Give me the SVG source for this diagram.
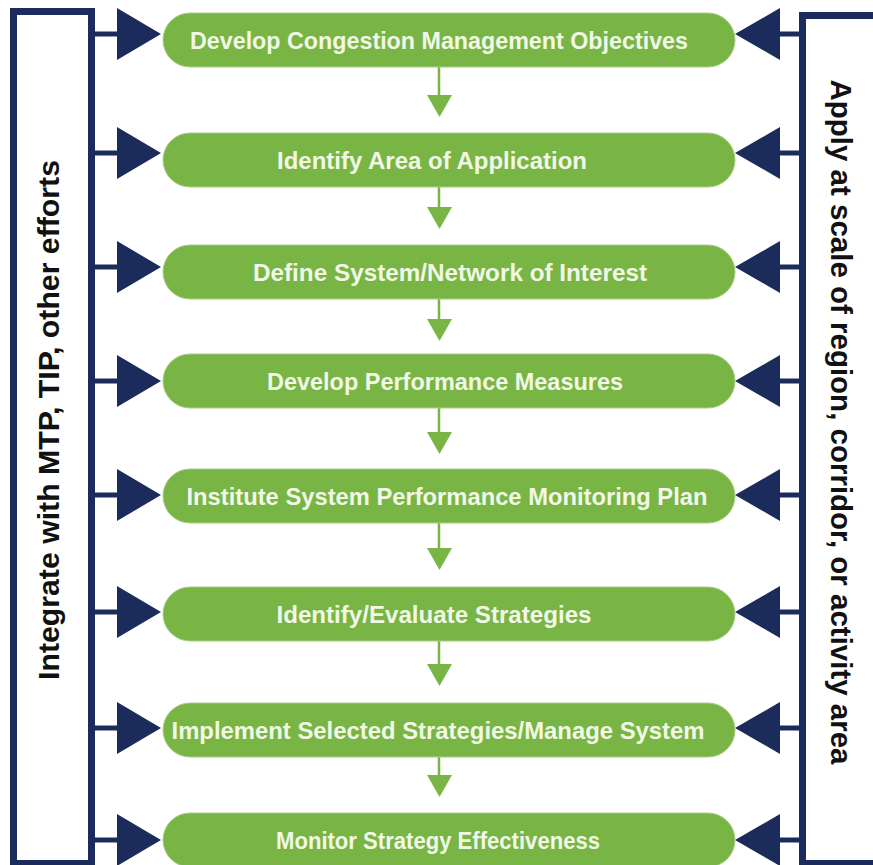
<svg xmlns="http://www.w3.org/2000/svg" width="873" height="865" viewBox="0 0 873 865">
<style>
.frame{fill:#ffffff;stroke:#1b2c5c;stroke-width:7}
.side{font-family:"Liberation Sans",Arial,sans-serif;font-weight:bold;font-size:29px;fill:#111111}
.pill{fill:#79b545;stroke:#a8cc86;stroke-width:1}
.lbl{font-family:"Liberation Sans",Arial,sans-serif;font-weight:bold;font-size:24px;fill:#f1f8e6;text-anchor:middle}
.nav{stroke:#1b2c5c;stroke-width:5;fill:none}
.navh{fill:#1b2c5c}
.gl{stroke:#79b545;stroke-width:2.5;fill:none}
.gh{fill:#79b545}
</style>
<rect width="873" height="865" fill="#ffffff"/>
<g id="integrate-frame">
<rect class="frame" x="13.5" y="11.5" width="78" height="852"/>
<text class="side" transform="translate(59,420) rotate(-90)" text-anchor="middle" textLength="520" lengthAdjust="spacingAndGlyphs">Integrate with MTP, TIP, other efforts</text>
</g>
<g id="apply-frame">
<rect class="frame" x="802.5" y="15.5" width="100" height="848"/>
<text class="side" transform="translate(831,422) rotate(90)" text-anchor="middle" textLength="685" lengthAdjust="spacingAndGlyphs">Apply at scale of region, corridor, or activity area</text>
</g>
<g id="connectors">
<g id="left-arrows">
<path class="nav" d="M95 34H120M95 153H120M95 267H120M95 381H120M95 495H120M95 612H120M95 728H120M95 840H120"/>
<polygon class="navh" points="117,8 117,60 161,34"/>
<polygon class="navh" points="117,127 117,179 161,153"/>
<polygon class="navh" points="117,241 117,293 161,267"/>
<polygon class="navh" points="117,355 117,407 161,381"/>
<polygon class="navh" points="117,469 117,521 161,495"/>
<polygon class="navh" points="117,586 117,638 161,612"/>
<polygon class="navh" points="117,702 117,754 161,728"/>
<polygon class="navh" points="117,814 117,866 161,840"/>
</g>
<g id="right-arrows">
<path class="nav" d="M778 34H800M778 153H800M778 267H800M778 381H800M778 495H800M778 612H800M778 728H800M778 840H800"/>
<polygon class="navh" points="780,8 780,60 735,34"/>
<polygon class="navh" points="780,127 780,179 735,153"/>
<polygon class="navh" points="780,241 780,293 735,267"/>
<polygon class="navh" points="780,355 780,407 735,381"/>
<polygon class="navh" points="780,469 780,521 735,495"/>
<polygon class="navh" points="780,586 780,638 735,612"/>
<polygon class="navh" points="780,702 780,754 735,728"/>
<polygon class="navh" points="780,814 780,866 735,840"/>
</g>
<g id="flow-arrows">
<path class="gl" d="M439 67V96M439 187V208M439 299V320M439 408V433M439 523V549M439 641V665M439 757V776"/>
<polygon class="gh" points="427,95 452,95 439.5,117"/>
<polygon class="gh" points="427,207 452,207 439.5,229"/>
<polygon class="gh" points="427,319 452,319 439.5,341"/>
<polygon class="gh" points="427,432 452,432 439.5,454"/>
<polygon class="gh" points="427,548 452,548 439.5,570"/>
<polygon class="gh" points="427,664 452,664 439.5,686"/>
<polygon class="gh" points="427,775 452,775 439.5,797"/>
</g>
</g>
<g id="step1"><rect class="pill" x="163" y="13" width="572" height="54" rx="27"/><text class="lbl" x="439" y="49" textLength="498" lengthAdjust="spacingAndGlyphs">Develop Congestion Management Objectives</text></g>
<g id="step2"><rect class="pill" x="163" y="133" width="572" height="54" rx="27"/><text class="lbl" x="432" y="169" textLength="310" lengthAdjust="spacingAndGlyphs">Identify Area of Application</text></g>
<g id="step3"><rect class="pill" x="163" y="245" width="572" height="54" rx="27"/><text class="lbl" x="450" y="281" textLength="394" lengthAdjust="spacingAndGlyphs">Define System/Network of Interest</text></g>
<g id="step4"><rect class="pill" x="163" y="354" width="572" height="54" rx="27"/><text class="lbl" x="445" y="390" textLength="356" lengthAdjust="spacingAndGlyphs">Develop Performance Measures</text></g>
<g id="step5"><rect class="pill" x="163" y="469" width="572" height="54" rx="27"/><text class="lbl" x="447" y="505" textLength="521" lengthAdjust="spacingAndGlyphs">Institute System Performance Monitoring Plan</text></g>
<g id="step6"><rect class="pill" x="163" y="587" width="572" height="54" rx="27"/><text class="lbl" x="434" y="623" textLength="315" lengthAdjust="spacingAndGlyphs">Identify/Evaluate Strategies</text></g>
<g id="step7"><rect class="pill" x="163" y="703" width="572" height="54" rx="27"/><text class="lbl" x="438" y="739" textLength="533" lengthAdjust="spacingAndGlyphs">Implement Selected Strategies/Manage System</text></g>
<g id="step8"><rect class="pill" x="163" y="813" width="572" height="54" rx="27"/><text class="lbl" x="438" y="849" textLength="324" lengthAdjust="spacingAndGlyphs">Monitor Strategy Effectiveness</text></g>
</svg>
